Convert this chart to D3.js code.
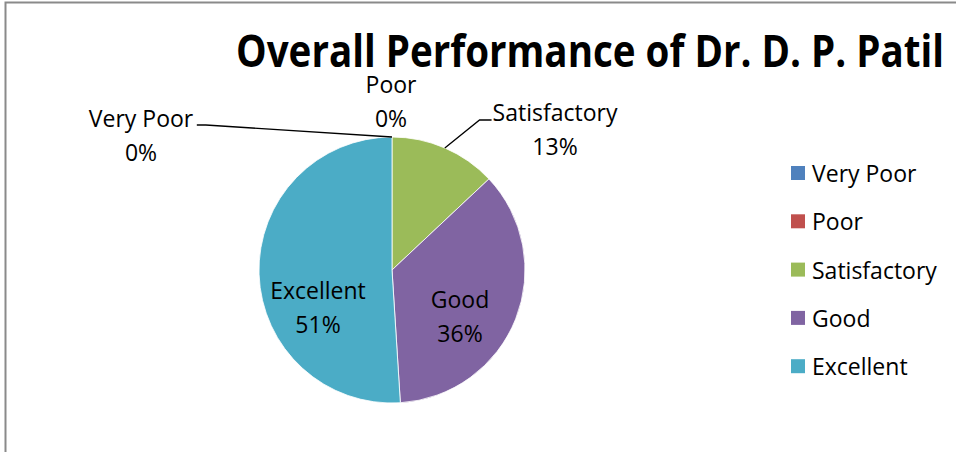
<!DOCTYPE html>
<html>
<head>
<meta charset="utf-8">
<script src="https://cdn.jsdelivr.net/npm/d3@7"></script>
<style>
  body { margin: 0; background: #fff; }
  svg { display: block; }
  text { font-family: "Open Sans", "DejaVu Sans", sans-serif; fill: #000; }
</style>
</head>
<body>
<div id="chart"></div>
<script>
const W = 956, H = 452;

// data
const categories = ["Very Poor", "Poor", "Satisfactory", "Good", "Excellent"];
const values = [0, 0, 13, 36, 51];
const colors = ["#4F81BD", "#C0504D", "#9BBB59", "#8064A2", "#4BACC6"];
const title = "Overall Performance of Dr. D. P. Patil";

// label layout (offset of label centre from pie centre), leader side
const labelDx = [-251, -1, 163, 68, -74];
const labelDy = [-135, -169, -141, 46, 37];
const leader = ["right", "none", "left", "none", "none"];

const cx = 392, cy = 270, r = 133;

const svg = d3.select("#chart").append("svg")
  .attr("width", W)
  .attr("height", H);

// frame
svg.append("path")
  .attr("d", `M5.5,${H} L5.5,2.5 L${W},2.5`)
  .attr("fill", "none")
  .attr("stroke", "#8a8a8a")
  .attr("stroke-width", 2);

// title
svg.append("text")
  .attr("x", 236)
  .attr("y", 67)
  .attr("textLength", 708)
  .attr("lengthAdjust", "spacingAndGlyphs")
  .style("font-size", "44px")
  .style("font-weight", "bold")
  .text(title);

const pie = d3.pie().sort(null).value(d => d);
const arcs = pie(values);
const arc = d3.arc().innerRadius(0).outerRadius(r);
const edge = d3.arc().innerRadius(r).outerRadius(r);

const g = svg.append("g").attr("transform", `translate(${cx},${cy})`);

g.selectAll(".slice")
  .data(arcs)
  .enter()
  .append("path")
  .attr("class", "slice")
  .attr("d", arc)
  .attr("fill", (d, i) => colors[i])
  .attr("stroke", "#fff")
  .attr("stroke-width", d => d.value > 0 ? 0.8 : 0);

// data labels
const labels = g.selectAll(".lbl")
  .data(arcs)
  .enter()
  .append("text")
  .attr("class", "lbl")
  .attr("text-anchor", "middle")
  .style("font-size", "23px");

labels.append("tspan")
  .attr("x", (d, i) => labelDx[i])
  .attr("y", (d, i) => labelDy[i] - 17)
  .attr("dominant-baseline", "central")
  .text((d, i) => categories[i]);
labels.append("tspan")
  .attr("x", (d, i) => labelDx[i])
  .attr("y", (d, i) => labelDy[i] + 17)
  .attr("dominant-baseline", "central")
  .text(d => Math.round(d.value) + "%");

// leader lines
labels.each(function(d, i) {
  if (leader[i] === "none") return;
  const first = this.firstChild.getBBox();
  const p = edge.centroid(d);
  if (d.value === 0) p[0] = 0, p[1] = -r;
  let pts;
  if (leader[i] === "right") {
    const x0 = first.x + first.width + 3, y0 = labelDy[i] - 10;
    pts = [[x0, y0], [x0 + 9, y0], p];
  } else {
    const x0 = first.x - 1, y0 = labelDy[i] - 9;
    pts = [[x0, y0], [x0 - 12, y0], p];
  }
  g.append("path")
    .attr("d", d3.line()(pts))
    .attr("fill", "none")
    .attr("stroke", "#000")
    .attr("stroke-width", 1.3);
});

// legend
const legend = svg.append("g").attr("transform", "translate(791,173)");
const rows = legend.selectAll(".row")
  .data(categories)
  .enter()
  .append("g")
  .attr("class", "row")
  .attr("transform", (d, i) => `translate(0,${i * 48.3})`);
rows.append("rect")
  .attr("x", 0).attr("y", -7)
  .attr("width", 14).attr("height", 14)
  .attr("fill", (d, i) => colors[i]);
rows.append("text")
  .attr("x", 21)
  .attr("y", 0)
  .attr("dominant-baseline", "central")
  .style("font-size", "23px")
  .text(d => d);
</script>
</body>
</html>
